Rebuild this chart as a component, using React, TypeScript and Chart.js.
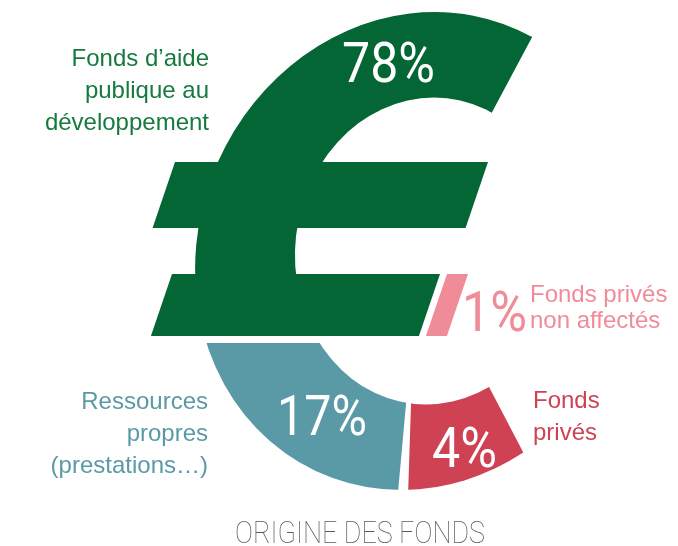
import React, { useEffect, useRef } from "react";
import { Chart, registerables } from "chart.js";

Chart.register(...registerables);

// ---------- data ----------
const categories = [
  "Fonds d’aide publique au développement",
  "Fonds privés non affectés",
  "Fonds privés",
  "Ressources propres (prestations…)",
];
const values = [78, 1, 4, 17];
const labelLines = [
  ["Fonds d’aide", "publique au", "développement"],
  ["Fonds privés", "non affectés"],
  ["Fonds", "privés"],
  ["Ressources", "propres", "(prestations…)"],
];
const fillColors = ["#036634", "#f08b98", "#cf4254", "#5a9aa6"];
const textColors = ["#167a3e", "#f08b98", "#cf4254", "#5a9aa6"];
const chartTitle = "ORIGINE DES FONDS";

// ---------- euro glyph drawing spec (shape of the pictogram, not data) ----------
const GLYPH = {
  startDeg: 57.5, // where the ring begins (canvas degrees, clockwise)
  ringOrder: [2, 3, 0], // red, teal, green pieces of the "C"
  arcDeg: [32, 75.5, 131.5, 121], // last = the opening of the C
  scaleX: 0.93,
  shear: 0.07,
  hole: { dx: 12, rx: 135, ry: 153.5, shear: 0.026 },
  slant: 0.34,
  bars: [
    { top: -89, bottom: -23, left: -243, right: 70 },
    { top: 23, bottom: 85, left: -246, right: 22 },
  ],
  pinkBar: { top: 23, bottom: 85, left: 29, right: 50 },
  strip: { top: 85, bottom: 92, left: -290, right: 20 },
  pct: [
    { dx: -29.5, dy: -169, w: 93 },
    { dx: 76.5, dy: 80, w: 65 },
    { dx: 46.5, dy: 216, w: 65 },
    { dx: -96, dy: 184, w: 90 },
  ],
  labels: [
    { dx: -209, dy: -185, align: "right", step: 32 },
    { dx: 112, dy: 51, align: "left", step: 26 },
    { dx: 115, dy: 157, align: "left", step: 32 },
    { dx: -210, dy: 158, align: "right", step: 32 },
  ],
  title: { dx: -58, dy: 292, w: 250 },
};

function para(ctx: CanvasRenderingContext2D, cx: number, cy: number, b: any, slant: number, color: string) {
  const h = b.bottom - b.top;
  ctx.beginPath();
  ctx.moveTo(cx + b.left, cy + b.top);
  ctx.lineTo(cx + b.right, cy + b.top);
  ctx.lineTo(cx + b.right - slant * h, cy + b.bottom);
  ctx.lineTo(cx + b.left - slant * h, cy + b.bottom);
  ctx.closePath();
  ctx.fillStyle = color;
  ctx.fill();
}

const euroPlugin = {
  id: "euroGlyph",
  beforeDatasetsDraw(chart: any) {
    const arc = chart.getDatasetMeta(0).data[0];
    const ctx = chart.ctx as CanvasRenderingContext2D;
    ctx.save();
    ctx.translate(arc.x, arc.y);
    ctx.transform(GLYPH.scaleX, 0, -GLYPH.shear, 1, 0, 0);
    ctx.translate(-arc.x, -arc.y);
  },
  afterDatasetsDraw(chart: any) {
    const ctx = chart.ctx as CanvasRenderingContext2D;
    const meta = chart.getDatasetMeta(0);
    const a0 = meta.data[0];
    const cx = a0.x, cy = a0.y, R = a0.outerRadius;
    // separator between red and teal pieces (still in ring space)
    const ang = meta.data[1].startAngle;
    const d = [Math.cos(ang), Math.sin(ang)];
    const n = [-Math.sin(ang), Math.cos(ang)];
    const r1 = R * 0.55, r2 = R + 4, w1 = 2, w2 = 5.5;
    ctx.beginPath();
    ctx.moveTo(cx + d[0] * r1 + n[0] * w1, cy + d[1] * r1 + n[1] * w1);
    ctx.lineTo(cx + d[0] * r2 + n[0] * w2, cy + d[1] * r2 + n[1] * w2);
    ctx.lineTo(cx + d[0] * r2 - n[0] * w2, cy + d[1] * r2 - n[1] * w2);
    ctx.lineTo(cx + d[0] * r1 - n[0] * w1, cy + d[1] * r1 - n[1] * w1);
    ctx.closePath();
    ctx.fillStyle = "#ffffff";
    ctx.fill();
    ctx.restore();

    // counter of the C
    const H = GLYPH.hole;
    ctx.save();
    ctx.translate(cx + H.dx, cy);
    ctx.transform(1, 0, -H.shear, 1, 0, 0);
    ctx.beginPath();
    ctx.ellipse(0, 0, H.rx, H.ry, 0, 0, Math.PI * 2);
    ctx.fillStyle = "#ffffff";
    ctx.fill();
    ctx.restore();

    // white strip between lower bar and teal piece
    const s = GLYPH.strip;
    ctx.fillStyle = "#ffffff";
    ctx.fillRect(cx + s.left, cy + s.top, s.right - s.left, s.bottom - s.top);

    // bars of the euro sign
    GLYPH.bars.forEach((b) => para(ctx, cx, cy, b, GLYPH.slant, fillColors[0]));
    para(ctx, cx, cy, GLYPH.pinkBar, GLYPH.slant, fillColors[1]);

    // percentages
    ctx.textBaseline = "alphabetic";
    ctx.textAlign = "center";
    values.forEach((v, i) => {
      const p = GLYPH.pct[i];
      ctx.font = "400 56px Roboto, 'Liberation Sans', sans-serif";
      ctx.fillStyle = i === 1 ? fillColors[1] : "#ffffff";
      ctx.fillText(v + "%", cx + p.dx, cy + p.dy, p.w);
    });

    // category labels
    ctx.font = "24px 'Liberation Sans', Arial, sans-serif";
    labelLines.forEach((lines, i) => {
      const L = GLYPH.labels[i];
      ctx.textAlign = L.align as CanvasTextAlign;
      ctx.fillStyle = textColors[i];
      lines.forEach((t, k) => ctx.fillText(t, cx + L.dx, cy + L.dy + k * L.step));
    });

    // title
    const T = GLYPH.title;
    ctx.textAlign = "center";
    ctx.font = "100 32px Roboto, 'Liberation Sans', sans-serif";
    ctx.fillStyle = "#5a5a5a";
    ctx.fillText(chartTitle, cx + T.dx, cy + T.dy, T.w);
  },
};

export default function App() {
  const ref = useRef<HTMLCanvasElement>(null);
  useEffect(() => {
    document.body.style.margin = "0";
    const canvas = ref.current!;
    const ringColors = GLYPH.ringOrder.map((i) => fillColors[i]).concat(["rgba(0,0,0,0)"]);
    const chart = new Chart(canvas, {
      type: "doughnut",
      data: {
        labels: GLYPH.ringOrder.map((i) => categories[i]).concat([""]),
        datasets: [
          {
            data: GLYPH.arcDeg,
            backgroundColor: ringColors,
            borderWidth: 0,
            hoverOffset: 0,
          },
        ],
      },
      options: {
        responsive: false,
        animation: false,
        events: [],
        cutout: 0,
        rotation: GLYPH.startDeg + 90,
        layout: { padding: { left: 158, right: 0, top: 12, bottom: 56 } },
        plugins: {
          legend: { display: false },
          tooltip: { enabled: false },
          title: { display: false },
        },
      },
      plugins: [euroPlugin],
    } as any);
    return () => chart.destroy();
  }, []);
  return (
    <div style={{ width: 678, height: 546, background: "#ffffff" }}>
      <canvas ref={ref} width={678} height={546} style={{ display: "block" }} />
    </div>
  );
}
